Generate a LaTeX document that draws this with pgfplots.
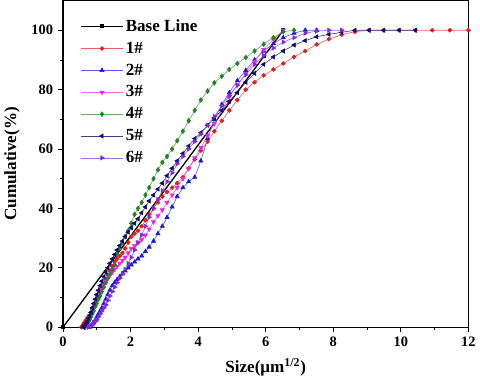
\documentclass[border=0pt]{standalone}
\usepackage{pgfplots}
\usepackage{pgfplotstable}
\pgfplotsset{compat=1.18}
\usepackage{fontspec}
\setmainfont{Liberation Serif}
\definecolor{s1}{RGB}{225,30,30}
\definecolor{s2}{RGB}{25,25,215}
\definecolor{s3}{RGB}{230,40,230}
\definecolor{s4}{RGB}{40,130,40}
\definecolor{s5}{RGB}{15,15,110}
\definecolor{s6}{RGB}{130,40,225}

% sieve classes, sqrt of size
\pgfplotstableread{
x y
0.54 0
0.57 0.5
0.60 1
0.63 1.5
0.66 2
0.69 2.5
0.72 3
0.76 3.5
0.79 4
0.83 5
0.87 6
0.91 7
0.96 8
1.00 9
1.05 10
1.10 11.5
1.15 13
1.21 14.5
1.27 16
1.33 17.5
1.39 19
1.46 20.5
1.53 22
1.60 23
1.68 24
1.76 25
1.84 26.5
1.93 28.5
2.02 30.5
2.12 31.5
2.22 32.5
2.33 34
2.44 36
2.55 38
2.68 40
2.81 42
2.94 44
3.08 45.5
3.23 47
3.38 48.5
3.55 50.5
3.72 53.5
3.90 56.5
4.08 59.5
4.28 62.5
4.48 66
4.70 69.5
4.92 73
5.16 76.5
5.41 80
5.67 82.5
5.94 84.8
6.23 86.8
6.52 88.8
6.84 91
7.17 93
7.51 95.2
7.87 97
8.25 98.5
8.64 99.5
9.06 100
9.49 100
9.95 100
10.43 100
10.93 100
11.45 100
12.00 100
}\dataA

\pgfplotstableread{
x y
0.79 0
0.83 0.5
0.87 1
0.91 1.5
0.96 2.5
1.00 3.5
1.05 4.5
1.10 5.5
1.15 6.5
1.21 8
1.27 9.5
1.33 11
1.39 12.5
1.46 14
1.53 15
1.60 16
1.68 17
1.76 18
1.84 19
1.93 20
2.02 21
2.12 22
2.22 23
2.33 24
2.44 25.5
2.55 27
2.68 29
2.81 31.5
2.94 34
3.08 37
3.23 40.5
3.38 44
3.55 47
3.72 49
3.90 50.5
4.08 56
4.28 63.5
4.48 70
4.70 75
4.92 79
5.16 83
5.41 86.5
5.67 90
5.94 93
6.23 95.5
6.52 97.5
6.84 99
7.17 100
7.51 100
}\dataB

\pgfplotstableread{
x y
0.66 0
0.69 0.5
0.72 1
0.76 2
0.79 3
0.83 4.5
0.87 6
0.91 7.5
0.96 9
1.00 10.5
1.05 12
1.10 13
1.15 14
1.21 14.5
1.27 15.5
1.33 16.5
1.39 17.5
1.46 18.5
1.53 19.5
1.60 20.5
1.68 21.5
1.76 22.5
1.84 23.5
1.93 25
2.02 26.5
2.12 27.5
2.22 28.5
2.33 29.5
2.44 31
2.55 33
2.68 35.5
2.81 37.5
2.94 39.5
3.08 42
3.23 44.5
3.38 47
3.55 50
3.72 53.5
3.90 57
4.08 60.5
4.28 64.5
4.48 68.5
4.70 73
4.92 77.5
5.16 81.5
5.41 85.5
5.67 89.5
5.94 93.5
6.23 97
6.52 100
}\dataC

\pgfplotstableread{
x y
0.63 0
0.66 0.5
0.69 1
0.72 1.5
0.76 2
0.79 2.5
0.83 3.5
0.87 4.5
0.91 5.5
0.96 7
1.00 8
1.05 9.5
1.10 10.5
1.15 12
1.21 13.5
1.27 15
1.33 16.5
1.39 18
1.46 19.5
1.53 21
1.60 24.5
1.68 26.5
1.76 28.5
1.84 30.5
1.93 32.5
2.02 35
2.12 38
2.22 40
2.33 42
2.44 44.5
2.55 47
2.68 50
2.81 53
2.94 55.5
3.08 57.5
3.23 60
3.38 62.8
3.55 66
3.72 69.5
3.90 73
4.08 76.5
4.28 79.5
4.48 82.3
4.70 84.5
4.92 86.8
5.16 88.8
5.41 90.8
5.67 93
5.94 95.3
6.23 97.5
6.52 99.5
6.84 100
}\dataD

\pgfplotstableread{
x y
0.60 0
0.63 0.5
0.66 1
0.69 1.5
0.72 2
0.76 3
0.79 4
0.83 5
0.87 6.5
0.91 8
0.96 9.5
1.00 11
1.05 12.5
1.10 14
1.15 15.5
1.21 17
1.27 18.5
1.33 20
1.39 21.5
1.46 23
1.53 24.5
1.60 26
1.68 27.5
1.76 29
1.84 30.5
1.93 32
2.02 33.5
2.12 35
2.22 36.5
2.33 38.5
2.44 40.5
2.55 42.5
2.68 44.5
2.81 46.5
2.94 48.5
3.08 51
3.23 53.5
3.38 56
3.55 58.5
3.72 61
3.90 63.5
4.08 65.5
4.28 68
4.48 70.5
4.70 73
4.92 76
5.16 79
5.41 82.5
5.67 85.5
5.94 88.5
6.23 91
6.52 93
6.84 95
7.17 96.5
7.51 97.8
7.87 98.6
8.25 99.3
8.64 100
9.06 100
9.49 100
9.95 100
10.43 100
}\dataE

\pgfplotstableread{
x y
0.76 0
0.79 0.3
0.83 0.5
0.87 1
0.91 1.5
0.96 2
1.00 2.5
1.05 3.5
1.10 4.5
1.15 5.5
1.21 6.5
1.27 7.5
1.33 9
1.39 10.5
1.46 12
1.53 13.5
1.60 15
1.68 16.5
1.76 18
1.84 19.5
1.93 21.5
2.02 23.5
2.12 26
2.22 28.5
2.33 31
2.44 34
2.55 37
2.68 40
2.81 43
2.94 46
3.08 49
3.23 52
3.38 55
3.55 57.5
3.72 60
3.90 62.5
4.08 65
4.28 68
4.48 71
4.70 74.5
4.92 78
5.16 81.5
5.41 85
5.67 88.5
5.94 91.5
6.23 94
6.52 96
6.84 97.5
7.17 99
7.51 99.7
7.87 100
8.25 100
}\dataF

\begin{document}
\begin{tikzpicture}
\begin{axis}[
    scale only axis,
    width=309pt, height=249pt,
    xmin=0, xmax=12, ymin=0, ymax=110,
    xtick={0,2,...,12}, ytick={0,20,...,100},
    minor xtick={1,3,...,11}, minor ytick={10,30,...,90},
    tick align=outside, xtick pos=bottom, ytick pos=left,
    major tick length=4pt, minor tick length=2pt,
    tick style={black, line width=0.6pt},
    axis line style={line width=0.8pt},
    /pgf/number format/assume math mode=true,
    ticklabel style={font=\bfseries\fontsize{11}{12}\selectfont},
    xlabel={Size(μm\textsuperscript{1/2})},
    ylabel={Cumulative(\%)},
    label style={font=\bfseries\fontsize{13}{15}\selectfont},
    xlabel style={yshift=-2pt},
    ylabel style={yshift=2pt},
    legend style={draw=none, fill=none, at={(0.04,0.955)}, anchor=north west,
        font=\bfseries\fontsize{13}{15}\selectfont, row sep=2.6pt,
        inner sep=1pt},
    legend cell align=left,
    legend image code/.code={\draw[mark repeat=2,mark phase=2]
        plot coordinates {(0cm,0cm) (0.55cm,0cm) (1.1cm,0cm)};},
    every axis plot/.append style={line width=0.5pt},
]
\addplot[black, line width=1pt, mark=square*, mark size=0.9pt] coordinates {(0,0) (5.94,91.1) (6.52,100)};
\addplot[s1!70, mark=*, mark size=1.5pt, mark options={s1, fill=s1}] table {\dataA};
\addplot[s2!70, mark=triangle*, mark size=1.8pt, mark options={s2, fill=s2}] table {\dataB};
\addplot[s3!70, mark=triangle*, mark size=1.8pt, mark options={s3, fill=s3, rotate=180}] table {\dataC};
\addplot[s4!70, mark=diamond*, mark size=1.8pt, mark options={s4, fill=s4}] table {\dataD};
\addplot[s5!80, mark=triangle*, mark size=1.8pt, mark options={s5, fill=s5, rotate=90}] table {\dataE};
\addplot[s6!70, mark=triangle*, mark size=1.8pt, mark options={s6, fill=s6, rotate=-90}] table {\dataF};
\legend{Base Line,1\#,2\#,3\#,4\#,5\#,6\#}
\end{axis}
\end{tikzpicture}
\end{document}
